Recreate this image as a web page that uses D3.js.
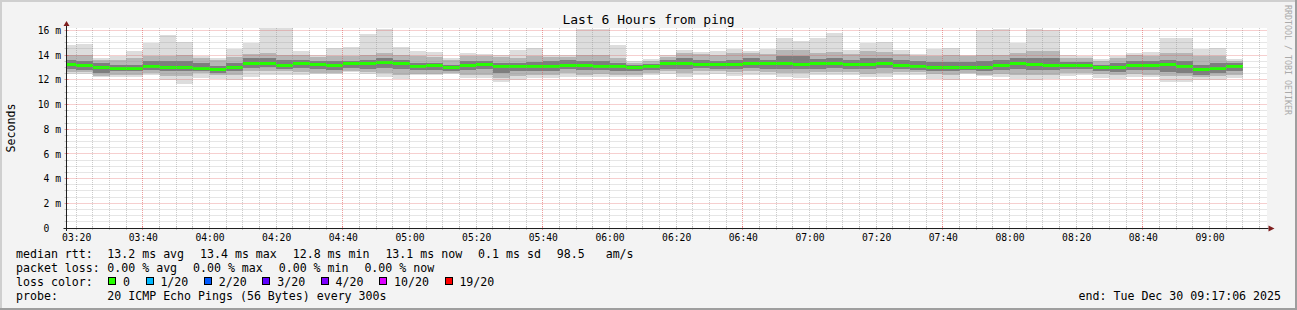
<!DOCTYPE html>
<html>
<head>
<meta charset="utf-8">
<script src="https://cdn.jsdelivr.net/npm/d3@7"></script>
<style>
  body { margin: 0; background: #f3f3f3; }
  svg { display: block; font-family: "DejaVu Sans Mono", monospace; }
  .keep { white-space: pre; }
</style>
</head>
<body>
<div id="chart"></div>
<script>
var svgWidth = 1297;
var svgHeight = 310;

// plot canvas (rrdtool style, 1200 x 200 px)
var plot = { left: 66.5, right: 1266.5, top: 28, bottom: 228 };

var startTime = new Date(2025, 11, 30, 3, 17, 6);
var endTime = new Date(2025, 11, 30, 9, 17, 6);
var firstBarTime = new Date(2025, 11, 30, 3, 15, 0);
var stepSeconds = 300;

// rtt per 5 minute step, in ms
var medianRtt = [13.25, 13.15, 13.0, 12.95, 12.9, 13.05, 13.0, 13.0, 12.95, 12.85,
  13.0, 13.35, 13.3, 13.2, 13.3, 13.25, 13.2, 13.3, 13.3, 13.4,
  13.3, 13.1, 13.15, 13.0, 13.15, 13.25, 13.05, 13.1, 13.1, 13.1,
  13.2, 13.15, 13.1, 13.05, 13.0, 13.1, 13.3, 13.35, 13.25, 13.25,
  13.25, 13.35, 13.3, 13.3, 13.25, 13.3, 13.35, 13.25, 13.25, 13.35,
  13.2, 13.05, 13.0, 13.0, 13.0, 13.0, 13.2, 13.3, 13.25, 13.2,
  13.2, 13.2, 13.0, 13.0, 13.2, 13.15, 13.25, 13.05, 12.8, 12.95, 13.1];

var maxRtt = [14.8, 14.9, 13.8, 13.9, 14.3, 14.95, 15.6, 15.05, 13.95, 13.8,
  14.5, 14.95, 16.2, 16.2, 14.35, 14.05, 14.6, 14.65, 15.7, 16.1,
  14.7, 14.3, 14.25, 13.8, 14.15, 14.1, 14.05, 14.45, 14.55, 14.05,
  14.05, 16.1, 16.1, 14.8, 13.5, 13.7, 14.0, 14.45, 14.25, 14.3,
  14.5, 14.3, 14.5, 15.4, 15.15, 15.4, 15.8, 14.45, 14.95, 15.05,
  14.45, 14.1, 14.5, 14.55, 14.05, 16.0, 16.1, 15.0, 16.1, 16.05,
  14.05, 13.95, 13.7, 13.9, 14.15, 14.25, 15.4, 15.4, 14.5, 14.55, 13.7];

var p90Rtt = [14.04, 14.04, 13.6, 13.63, 13.77, 13.9, 13.9, 13.99, 13.75, 13.63,
  13.82, 14.09, 14.17, 14.04, 14.04, 13.85, 13.9, 13.9, 14.04, 14.17,
  14.04, 13.9, 13.82, 13.63, 13.9, 13.9, 13.82, 13.77, 13.9, 13.85,
  13.85, 13.99, 13.99, 13.77, 13.4, 13.55, 13.85, 14.17, 14.09, 14.04,
  14.17, 14.17, 14.09, 14.44, 14.44, 14.17, 14.26, 14.09, 14.31, 14.26,
  14.09, 13.9, 13.9, 13.99, 13.9, 14.04, 14.04, 14.17, 14.36, 14.31,
  13.77, 13.77, 13.5, 13.75, 14.04, 13.9, 14.17, 14.17, 13.9, 13.9, 13.55];

var p75Rtt = [13.63, 13.5, 13.36, 13.23, 13.23, 13.5, 13.5, 13.5, 13.36, 13.09,
  13.36, 13.77, 13.77, 13.63, 13.63, 13.55, 13.5, 13.55, 13.63, 13.77,
  13.63, 13.36, 13.36, 13.23, 13.5, 13.55, 13.36, 13.36, 13.44, 13.5,
  13.63, 13.55, 13.5, 13.36, 13.2, 13.3, 13.63, 13.77, 13.63, 13.55,
  13.63, 13.77, 13.63, 13.9, 13.9, 13.71, 13.77, 13.63, 13.77, 13.77,
  13.63, 13.5, 13.44, 13.44, 13.44, 13.5, 13.63, 13.77, 13.77, 13.77,
  13.44, 13.44, 13.23, 13.36, 13.55, 13.5, 13.63, 13.55, 13.23, 13.36, 13.35];

var p25Rtt = [12.9, 12.82, 12.55, 12.69, 12.69, 12.82, 12.69, 12.69, 12.74, 12.55,
  12.74, 12.96, 13.01, 12.9, 12.96, 12.9, 12.82, 12.96, 12.9, 12.96,
  12.9, 12.82, 12.82, 12.74, 12.82, 12.9, 12.55, 12.69, 12.74, 12.74,
  12.9, 12.82, 12.82, 12.74, 12.74, 12.82, 12.9, 12.9, 12.96, 12.9,
  12.9, 12.96, 12.9, 12.9, 12.9, 12.9, 12.96, 12.9, 12.9, 12.96,
  12.9, 12.82, 12.74, 12.69, 12.82, 12.74, 12.82, 12.9, 12.82, 12.82,
  12.9, 12.9, 12.74, 12.63, 12.82, 12.82, 12.63, 12.55, 12.42, 12.55, 12.74];

var p10Rtt = [12.63, 12.63, 12.28, 12.42, 12.42, 12.55, 12.28, 12.28, 12.55, 12.42,
  12.42, 12.69, 12.69, 12.69, 12.63, 12.55, 12.55, 12.69, 12.63, 12.55,
  12.42, 12.47, 12.47, 12.55, 12.42, 12.42, 12.15, 12.28, 12.42, 12.42,
  12.55, 12.42, 12.47, 12.42, 12.42, 12.55, 12.69, 12.55, 12.69, 12.69,
  12.63, 12.69, 12.63, 12.55, 12.55, 12.63, 12.63, 12.63, 12.47, 12.55,
  12.63, 12.63, 12.47, 12.42, 12.55, 12.42, 12.47, 12.42, 12.36, 12.36,
  12.55, 12.55, 12.47, 12.36, 12.47, 12.42, 12.28, 12.28, 12.2, 12.28, 12.42];

var minRtt = [12.5, 12.5, 12.2, 12.2, 12.2, 12.4, 11.95, 11.7, 12.15, 12.05,
  12.0, 12.25, 12.4, 12.4, 12.4, 12.5, 12.45, 12.65, 12.45, 12.2,
  12.05, 12.4, 12.4, 12.5, 12.15, 12.15, 11.85, 12.0, 12.15, 12.15,
  12.25, 12.2, 12.25, 12.2, 12.25, 12.4, 12.45, 12.2, 12.4, 12.45,
  12.35, 12.4, 12.4, 12.25, 12.15, 12.4, 12.4, 12.4, 12.2, 12.25,
  12.4, 12.4, 12.1, 12.0, 12.45, 12.35, 12.2, 12.1, 12.0, 12.05,
  12.35, 12.4, 12.15, 12.1, 12.25, 12.25, 11.8, 11.8, 12.0, 12.0, 12.15];

var yTickValues = [0, 2, 4, 6, 8, 10, 12, 14, 16];

var medianLegendLabel = "median rtt:";
var medianLegendItems = ["13.2 ms avg", "13.4 ms max", "12.8 ms min", "13.1 ms now", "0.1 ms sd", "98.5   am/s"];
var lossLegendLabel = "packet loss:";
var lossLegendItems = ["0.00 % avg", "0.00 % max", "0.00 % min", "0.00 % now"];
var lossColorLabel = "loss color:";
var lossLabels = ["0", "1/20", "2/20", "3/20", "4/20", "10/20", "19/20"];
var lossColors = ["#26ff00", "#00b8ff", "#0059ff", "#5e00ff", "#7e00ff", "#dd00ff", "#ff0000"];
var probeLabel = "probe:";
var probeItems = ["20 ICMP Echo Pings (56 Bytes) every 300s"];
var endLabel = "end: Tue Dec 30 09:17:06 2025";
var titleText = "Last 6 Hours from ping";

var svg = d3
  .select("#chart")
  .append("svg")
  .attr("width", svgWidth)
  .attr("height", svgHeight);

// background + 3d frame
svg.append("rect").attr("width", svgWidth).attr("height", svgHeight).attr("fill", "#f3f3f3");
svg.append("rect").attr("x", 0).attr("y", 0).attr("width", svgWidth).attr("height", 2).attr("fill", "#cfcfcf");
svg.append("rect").attr("x", 0).attr("y", 0).attr("width", 2).attr("height", svgHeight).attr("fill", "#cfcfcf");
svg.append("rect").attr("x", 0).attr("y", svgHeight - 2).attr("width", svgWidth).attr("height", 2).attr("fill", "#9e9e9e");
svg.append("rect").attr("x", svgWidth - 2).attr("y", 0).attr("width", 2).attr("height", svgHeight).attr("fill", "#9e9e9e");

var xScale = d3.scaleTime().domain([startTime, endTime]).range([plot.left, plot.right]);
var yScale = d3.scaleLinear().domain([0, 16.2]).range([plot.bottom, plot.top]);

// canvas
svg.append("rect")
  .attr("x", plot.left + 0.5)
  .attr("y", plot.top)
  .attr("width", plot.right - plot.left)
  .attr("height", plot.bottom - plot.top)
  .attr("fill", "#ffffff");

svg.append("clipPath")
  .attr("id", "plotClip")
  .append("rect")
  .attr("x", plot.left + 0.5)
  .attr("y", plot.top)
  .attr("width", plot.right - plot.left)
  .attr("height", plot.bottom - plot.top);

var chartGroup = svg.append("g").attr("clip-path", "url(#plotClip)");

var barTimes = medianRtt.map(function (d, i) {
  return new Date(firstBarTime.getTime() + i * stepSeconds * 1000);
});
function barEnd(d) {
  return new Date(d.getTime() + stepSeconds * 1000);
}

// smoke, light outer band to dark inner band
var smokeLayers = [
  { lo: minRtt, hi: maxRtt, color: "#dddddd" },
  { lo: p10Rtt, hi: p90Rtt, color: "#b6b6b6" },
  { lo: p25Rtt, hi: p75Rtt, color: "#7e7e7e" },
];

smokeLayers.forEach(function (layer) {
  chartGroup
    .append("g")
    .selectAll("rect")
    .data(barTimes)
    .enter()
    .append("rect")
    .attr("x", (d) => xScale(d))
    .attr("width", (d) => xScale(barEnd(d)) - xScale(d))
    .attr("y", (d, i) => yScale(layer.hi[i]))
    .attr("height", (d, i) => yScale(layer.lo[i]) - yScale(layer.hi[i]))
    .attr("fill", layer.color)
    .attr("shape-rendering", "crispEdges");
});

// median, colored by loss (no loss here)
chartGroup
  .append("g")
  .selectAll("rect")
  .data(barTimes)
  .enter()
  .append("rect")
  .attr("x", (d) => xScale(d))
  .attr("width", (d) => xScale(barEnd(d)) - xScale(d))
  .attr("y", (d, i) => yScale(medianRtt[i]) - 1.5)
  .attr("height", 3)
  .attr("fill", lossColors[0])
  .attr("shape-rendering", "crispEdges");

// grid
var minorCol = "rgba(143,143,143,0.45)";
var majorCol = "rgba(222,80,80,0.55)";
var gridGroup = svg.append("g");

var fiveMin = d3.timeMinute.every(5).range(startTime, endTime);
var majorTimes = fiveMin.filter((d) => d.getMinutes() === 40);
var minorTimes = fiveMin.filter((d) => d.getMinutes() !== 40);

function px(v) {
  return Math.floor(v) + 0.5;
}

gridGroup.selectAll(".vminor")
  .data(minorTimes)
  .enter()
  .append("line")
  .attr("x1", (d) => px(xScale(d)))
  .attr("x2", (d) => px(xScale(d)))
  .attr("y1", plot.top)
  .attr("y2", plot.bottom)
  .attr("stroke", minorCol)
  .attr("stroke-dasharray", "1,1");

gridGroup.selectAll(".vmajor")
  .data(majorTimes)
  .enter()
  .append("line")
  .attr("x1", (d) => px(xScale(d)))
  .attr("x2", (d) => px(xScale(d)))
  .attr("y1", plot.top)
  .attr("y2", plot.bottom)
  .attr("stroke", majorCol)
  .attr("stroke-dasharray", "1,1");

var halfMs = d3.range(0.5, 16.2, 0.5);
var minorY = halfMs.filter((d) => d % 2 !== 0);
var majorY = halfMs.filter((d) => d % 2 === 0);

gridGroup.selectAll(".hminor")
  .data(minorY)
  .enter()
  .append("line")
  .attr("x1", plot.left + 1)
  .attr("x2", plot.right + 1)
  .attr("y1", (d) => px(yScale(d)))
  .attr("y2", (d) => px(yScale(d)))
  .attr("stroke", minorCol)
  .attr("stroke-dasharray", "1,1");

gridGroup.selectAll(".hmajor")
  .data(majorY)
  .enter()
  .append("line")
  .attr("x1", plot.left + 1)
  .attr("x2", plot.right + 1)
  .attr("y1", (d) => px(yScale(d)))
  .attr("y2", (d) => px(yScale(d)))
  .attr("stroke", majorCol)
  .attr("stroke-dasharray", "1,1");

// small tick marks at the axes
gridGroup.selectAll(".ytick")
  .data(halfMs)
  .enter()
  .append("line")
  .attr("x1", plot.left - 2)
  .attr("x2", plot.left + 2)
  .attr("y1", (d) => px(yScale(d)))
  .attr("y2", (d) => px(yScale(d)))
  .attr("stroke", (d) => (d % 2 === 0 ? majorCol : minorCol));

gridGroup.selectAll(".xtick")
  .data(fiveMin)
  .enter()
  .append("line")
  .attr("x1", (d) => px(xScale(d)))
  .attr("x2", (d) => px(xScale(d)))
  .attr("y1", plot.bottom - 2)
  .attr("y2", plot.bottom + 2)
  .attr("stroke", (d) => (d.getMinutes() === 40 ? majorCol : minorCol));

// axis lines with arrows
svg.append("line")
  .attr("x1", plot.left - 3).attr("x2", plot.right + 2)
  .attr("y1", plot.bottom + 0.5).attr("y2", plot.bottom + 0.5)
  .attr("stroke", "#1f1f1f");
svg.append("line")
  .attr("x1", plot.left).attr("x2", plot.left)
  .attr("y1", plot.bottom + 3).attr("y2", plot.top - 3)
  .attr("stroke", "#1f1f1f");
svg.append("path")
  .attr("d", `M${plot.right + 2},${plot.bottom - 2.5} L${plot.right + 8},${plot.bottom + 0.5} L${plot.right + 2},${plot.bottom + 3.5} Z`)
  .attr("fill", "#7f1f1f");
svg.append("path")
  .attr("d", `M${plot.left - 3},${plot.top - 2} L${plot.left},${plot.top - 7} L${plot.left + 3},${plot.top - 2} Z`)
  .attr("fill", "#7f1f1f");

// tick labels
var bottomAxis = d3
  .axisBottom(xScale)
  .ticks(d3.timeMinute.every(20))
  .tickFormat(d3.timeFormat("%H:%M"))
  .tickSize(0)
  .tickPadding(5.5);

var xAxis = svg
  .append("g")
  .attr("transform", `translate(0, ${plot.bottom + 0.5})`)
  .call(bottomAxis);
xAxis.select(".domain").remove();
xAxis.selectAll("text")
  .attr("font-family", "DejaVu Sans Mono")
  .attr("font-size", "9.7px")
  .attr("fill", "#000");

var leftAxis = d3
  .axisLeft(yScale)
  .tickValues(yTickValues)
  .tickFormat((d) => (d === 0 ? "0\u00a0\u00a0" : d + " m"))
  .tickSize(0)
  .tickPadding(5.5);

var yAxis = svg
  .append("g")
  .attr("transform", `translate(${plot.left}, 0)`)
  .call(leftAxis);
yAxis.select(".domain").remove();
yAxis.selectAll("text")
  .attr("font-family", "DejaVu Sans Mono")
  .attr("font-size", "9.7px")
  .attr("fill", "#000");

// titles
svg.append("text")
  .attr("x", svgWidth / 2)
  .attr("y", 23.5)
  .attr("text-anchor", "middle")
  .attr("font-size", "13px")
  .text(titleText);

svg.append("text")
  .attr("transform", "translate(14.5, 128) rotate(-90)")
  .attr("text-anchor", "middle")
  .attr("font-size", "11.6px")
  .text("Seconds");

svg.append("text")
  .attr("transform", "translate(1285, 5) rotate(90)")
  .attr("font-size", "8.3px")
  .attr("fill", "#aaaaaa")
  .text("RRDTOOL / TOBI OETIKER");

// legend
var charW = 7.0;
var legGap = 15.7;
var valueCol = 107.3;
var legendFont = "11.6px";

function legendRow(label, items, baseline) {
  svg.append("text")
    .attr("x", 16)
    .attr("y", baseline)
    .attr("font-size", legendFont)
    .text(label);
  var x = valueCol;
  items.forEach(function (t) {
    svg.append("text")
      .attr("class", "keep")
      .attr("x", x)
      .attr("y", baseline)
      .attr("font-size", legendFont)
      .text(t);
    x += t.length * charW + legGap;
  });
}

legendRow(medianLegendLabel, medianLegendItems, 257.5);
legendRow(lossLegendLabel, lossLegendItems, 271.5);
legendRow(probeLabel, probeItems, 299.5);

svg.append("text")
  .attr("x", 16)
  .attr("y", 285.5)
  .attr("font-size", legendFont)
  .text(lossColorLabel);

var bx = valueCol + 1;
lossLabels.forEach(function (t, i) {
  svg.append("rect")
    .attr("x", Math.round(bx) + 0.5)
    .attr("y", 277.5)
    .attr("width", 7)
    .attr("height", 7)
    .attr("fill", lossColors[i])
    .attr("stroke", "#000");
  var tx = bx + 14.7;
  svg.append("text")
    .attr("x", tx)
    .attr("y", 285.5)
    .attr("font-size", legendFont)
    .text(t);
  bx = tx + t.length * charW + legGap;
});

svg.append("text")
  .attr("x", 1281)
  .attr("y", 299.5)
  .attr("text-anchor", "end")
  .attr("font-size", legendFont)
  .text(endLabel);
</script>
</body>
</html>
